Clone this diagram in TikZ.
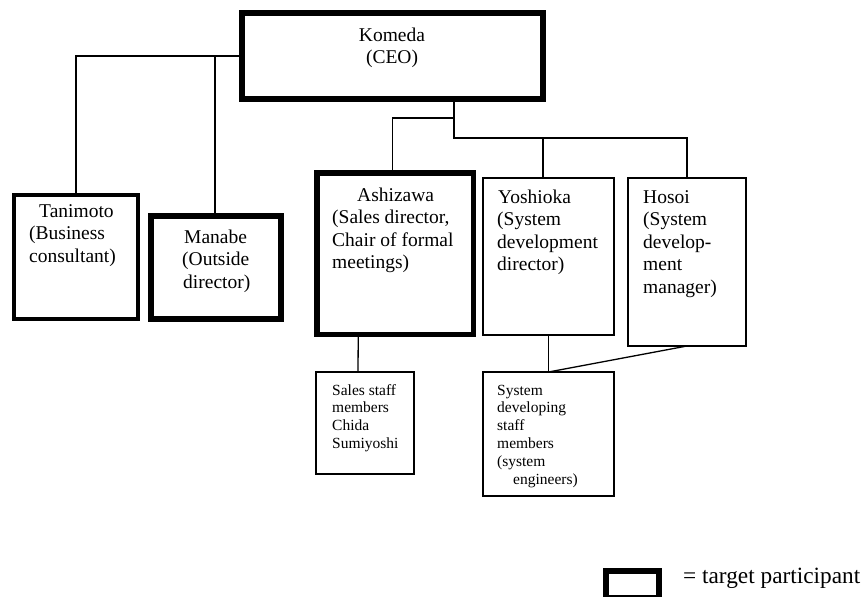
\documentclass[tikz,border=0pt]{standalone}
\usepackage{fontspec}
\setmainfont{Liberation Serif}
\newcommand{\mylines}[1]{\begin{tabular}[t]{@{}l@{}}#1\end{tabular}}
\newcommand{\mylinesc}[1]{\begin{tabular}[t]{@{}c@{}}#1\end{tabular}}
\tikzset{
  boxbase/.style={draw=black, rectangle, inner sep=0pt, outer sep=0pt, fill=white},
  thickbox/.style={boxbase, line width=5.5pt},
  thinbox/.style={boxbase, line width=1.3pt},
  conn/.style={draw=black, line width=1.3pt},
  bigtext/.style={inner sep=0pt, anchor=base west, font=\fontsize{19.5}{22.5}\selectfont},
  smalltext/.style={inner sep=0pt, anchor=base west, font=\fontsize{15.5}{17.8}\selectfont},
}
\begin{document}
\begin{tikzpicture}[x=1pt, y=-1pt]
\useasboundingbox (0,0) rectangle (868,597);
\begin{scope}
\clip (0,0) rectangle (868,597);
\fill[white] (0,0) rectangle (868,597);

% boxes
\node[thickbox, minimum width=301pt, minimum height=86pt] (ceo) at (392.5,56) {};
\node[thickbox, line width=4.2pt, minimum width=124pt, minimum height=124pt] (tan) at (76,257) {};
\node[thickbox, minimum width=130pt, minimum height=103pt] (man) at (216,267.5) {};
\node[thickbox, minimum width=156.5pt, minimum height=161.5pt] (ash) at (395.25,253.75) {};
\node[thinbox, minimum width=131pt, minimum height=157pt] (yos) at (548.5,256.5) {};
\node[thinbox, minimum width=118pt, minimum height=168pt] (hos) at (687,262) {};
\node[thinbox, minimum width=98pt, minimum height=102pt] (sales) at (365,423) {};
\node[thinbox, minimum width=131pt, minimum height=124pt] (sys) at (548.5,434) {};
\node[thickbox, line width=6pt, minimum width=53pt, minimum height=27pt] (leg) at (632.5,584) {};

% junctions
\coordinate (j1) at (454,118);
\coordinate (j2) at (454,138);

% connectors
\draw[conn] (ceo.west) -- (ceo.west -| tan.north) -- (tan.north);
\draw[conn] ([xshift=-1pt]ceo.west -| man.north) -- ([xshift=-1pt]man.north);
\draw[conn] (ceo.south -| j2) -- (j2) -| (hos.north);
\draw[conn] (j1) -| ([xshift=-3pt]ash.north);
\draw[conn] ([xshift=-5.5pt]j2 -| yos.north) -- ([xshift=-5.5pt]yos.north);
\draw[conn] ([xshift=-37pt]ash.south) -- ([xshift=-7pt]sales.north);
\draw[conn] (yos.south) -- (sys.north);
\draw[conn] (hos.south) -- (sys.north);

% texts
\node[bigtext, anchor=base] (tceo) at (392,41) {\mylinesc{Komeda\\(CEO)}};
\node[bigtext] (ttan) at (29,217) {\mylines{\hspace*{10pt}Tanimoto\\(Business\\consultant)}};
\node[bigtext] (tman) at (182,243) {\mylines{\hspace*{2pt}Manabe\\(Outside\\\hspace*{1pt}director)}};
\node[bigtext] (tash) at (332,201) {\mylines{\hspace*{25pt}Ashizawa\\(Sales director,\\Chair of formal\\meetings)}};
\node[bigtext] (tyos) at (497,203) {\mylines{\hspace*{1pt}Yoshioka\\(System\\development\\director)}};
\node[bigtext] (thos) at (643,203) {\mylines{Hosoi\\(System\\develop-\\ment\\manager)}};
\node[smalltext] (tsales) at (332,395) {\mylines{Sales staff\\members\\Chida\\Sumiyoshi}};
\node[smalltext] (tsys) at (497,395) {\mylines{System\\developing\\staff\\members\\(system\\\hspace*{16pt}engineers)}};
\node[inner sep=0pt, anchor=base west, font=\fontsize{23.3}{26}\selectfont] (tleg) at (683,583) {= target participant};
\end{scope}
\end{tikzpicture}
\end{document}
